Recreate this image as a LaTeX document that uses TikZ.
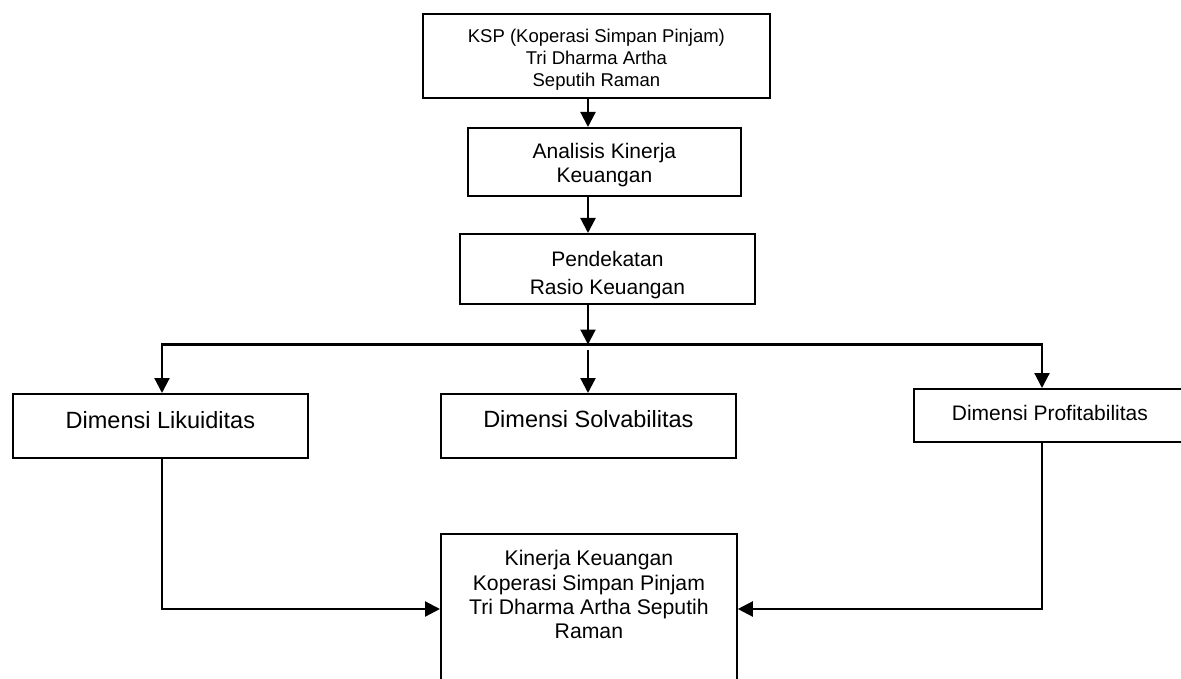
\documentclass[tikz,border=0pt]{standalone}
\usepackage{fontspec}
\setmainfont{Liberation Sans}
\usetikzlibrary{arrows.meta}
\tikzset{
  box/.style={draw, line width=1.8pt, inner xsep=0pt, inner ysep=0pt,
              anchor=north west, align=center},
  arr/.style={line width=2.2pt, -{Triangle[width=15pt,length=15pt]}},
  ln/.style={line width=2.2pt}
}
\begin{document}
\begin{tikzpicture}[x=1pt,y=-1pt]
\clip (0,0) rectangle (1181,679);
\fill[white] (0,0) rectangle (1181,679);

\node[box, minimum width=347pt, minimum height=84pt, text height=73.1pt, text depth=10.9pt,
      font=\fontsize{18.5}{22.2}\selectfont] (top) at (422,13)
  {KSP (Koperasi Simpan Pinjam)\\Tri Dharma Artha\\Seputih Raman};
\node[box, minimum width=273pt, minimum height=68pt, text height=54.5pt, text depth=13.5pt,
      font=\fontsize{21}{24}\selectfont] (ana) at (467,127)
  {Analisis Kinerja\\Keuangan};
\node[box, minimum width=295pt, minimum height=70pt, text height=60.5pt, text depth=9.5pt,
      font=\fontsize{21}{27.5}\selectfont] (pend) at (459,233)
  {Pendekatan\\Rasio Keuangan};
\node[box, minimum width=295pt, minimum height=64pt, text height=34.5pt, text depth=29.5pt,
      font=\fontsize{23.5}{28}\selectfont] (lik) at (12,393)
  {Dimensi Likuiditas};
\node[box, minimum width=295pt, minimum height=64pt, text height=33.7pt, text depth=30.3pt,
      font=\fontsize{23.5}{28}\selectfont] (solv) at (440,393)
  {Dimensi Solvabilitas};
\node[box, minimum width=272pt, minimum height=53pt, text height=32pt, text depth=21pt,
      font=\fontsize{21}{25}\selectfont] (prof) at (913,388)
  {Dimensi Profitabilitas};
\node[box, minimum width=296pt, minimum height=157pt, text height=104.9pt, text depth=52.1pt,
      font=\fontsize{21.2}{24.3}\selectfont] (bot) at (440,533)
  {Kinerja Keuangan\\Koperasi Simpan Pinjam\\Tri Dharma Artha Seputih\\Raman};

\coordinate (col) at (588,0);
\coordinate (busM) at (588,344.5);
\coordinate (busL) at (162,344.5);
\coordinate (busR) at (1042,344.5);
\coordinate (solvIn) at (588,350);
\coordinate (join) at (0,609);

\draw[arr] (top.south -| col) -- (ana.north -| col);
\draw[arr] (ana.south -| col) -- (pend.north -| col);
\draw[arr] (pend.south -| col) -- (busM);
\draw[arr] (busM) -| (lik.north -| busL);
\draw[arr] (busM) -| (prof.north -| busR);
\draw[arr] (solvIn) -- (solv.north -| solvIn);
\draw[arr] (lik.south -| busL) |- (bot.west |- join);
\draw[arr] (prof.south -| busR) |- (bot.east |- join);
\end{tikzpicture}
\end{document}
